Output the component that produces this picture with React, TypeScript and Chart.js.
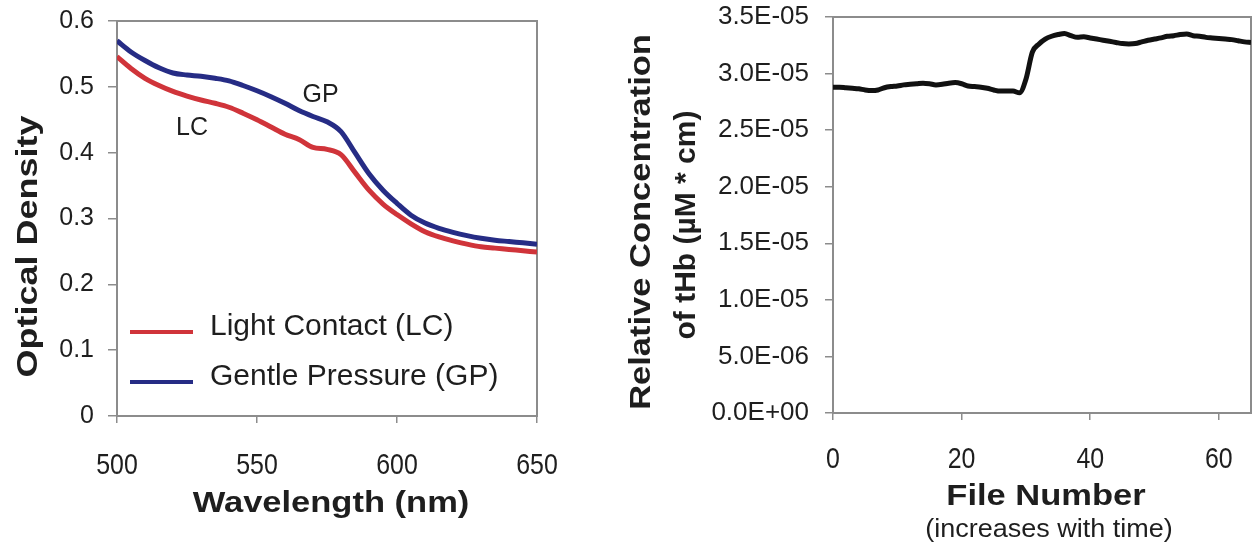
import React, { useEffect, useRef } from "react";
import { Chart, registerables } from "chart.js";

Chart.register(...registerables);

// ---------- Data: left panel (optical density spectra) ----------
const wavelengthNm = [
  500, 505, 510, 515, 520, 525, 530, 535, 540, 545, 550, 555, 560, 565, 570, 575,
  580, 585, 590, 595, 600, 605, 610, 615, 620, 625, 630, 635, 640, 645, 650,
];
const lightContactOD = [
  0.546, 0.528, 0.513, 0.502, 0.493, 0.486, 0.48, 0.475, 0.469, 0.46, 0.45, 0.439,
  0.428, 0.42, 0.408, 0.405, 0.397, 0.37, 0.343, 0.322, 0.306, 0.292, 0.28, 0.272,
  0.266, 0.261, 0.257, 0.255, 0.253, 0.251, 0.249,
];
const gentlePressureOD = [
  0.57, 0.553, 0.54, 0.529, 0.521, 0.518, 0.516, 0.513, 0.509, 0.502, 0.494, 0.485,
  0.475, 0.464, 0.455, 0.447, 0.432, 0.4, 0.368, 0.343, 0.323, 0.305, 0.293, 0.285,
  0.279, 0.274, 0.27, 0.267, 0.265, 0.263, 0.261,
];
const odSeriesLabels = ["Light Contact (LC)", "Gentle Pressure (GP)"];
const curveTags = [
  { text: "GP", x: 572.7, y: 0.477 },
  { text: "LC", x: 526.8, y: 0.427 },
];

// ---------- Data: right panel (relative tHb concentration) ----------
const fileNumbers = [
  0, 1, 2, 3, 4, 5, 6, 7, 8, 9, 10, 11, 12, 13, 14, 15, 16, 17, 18, 19, 20, 21, 22,
  23, 24, 25, 26, 27, 28, 29, 30, 31, 32, 33, 34, 35, 36, 37, 38, 39, 40, 41, 42, 43,
  44, 45, 46, 47, 48, 49, 50, 51, 52, 53, 54, 55, 56, 57, 58, 59, 60, 61, 62, 63, 64,
  65,
];
const tHbConcentration = [
  2.88e-5, 2.88e-5, 2.875e-5, 2.87e-5, 2.865e-5, 2.855e-5, 2.85e-5, 2.855e-5,
  2.875e-5, 2.885e-5, 2.89e-5, 2.9e-5, 2.905e-5, 2.91e-5, 2.915e-5, 2.91e-5, 2.9e-5,
  2.905e-5, 2.915e-5, 2.92e-5, 2.91e-5, 2.89e-5, 2.885e-5, 2.88e-5, 2.87e-5,
  2.855e-5, 2.845e-5, 2.845e-5, 2.845e-5, 2.83e-5, 2.95e-5, 3.19e-5, 3.26e-5,
  3.305e-5, 3.33e-5, 3.345e-5, 3.355e-5, 3.335e-5, 3.32e-5, 3.325e-5, 3.315e-5,
  3.305e-5, 3.295e-5, 3.285e-5, 3.275e-5, 3.265e-5, 3.262e-5, 3.265e-5, 3.28e-5,
  3.295e-5, 3.305e-5, 3.315e-5, 3.33e-5, 3.335e-5, 3.345e-5, 3.35e-5, 3.335e-5,
  3.33e-5, 3.32e-5, 3.315e-5, 3.31e-5, 3.305e-5, 3.3e-5, 3.29e-5, 3.28e-5, 3.275e-5,
];

// ---------- Styles ----------
const RED = "#d0343a";
const BLUE = "#262c85";
const BLACK = "#111111";
const GRAY = "#8c8c8c";
const TEXT = "#1e1e1e";
const SANS = "'Liberation Sans', Arial, Helvetica, sans-serif";

function sci(v: number): string {
  const [m, e] = v.toExponential(1).split("e");
  const sign = e[0] === "-" ? "-" : "+";
  const digits = e.replace(/^[+-]/, "").padStart(2, "0");
  return `${m}E${sign}${digits}`;
}

function drawText(
  ctx: CanvasRenderingContext2D,
  text: string,
  x: number,
  y: number,
  font: string,
  opts: { rotate?: boolean; sx?: number; align?: CanvasTextAlign; color?: string } = {}
) {
  ctx.save();
  ctx.translate(x, y);
  if (opts.rotate) ctx.rotate(-Math.PI / 2);
  ctx.scale(opts.sx ?? 1, 1);
  ctx.font = font;
  ctx.textAlign = opts.align ?? "center";
  ctx.textBaseline = "alphabetic";
  ctx.fillStyle = opts.color ?? TEXT;
  ctx.fillText(text, 0, 0);
  ctx.restore();
}

function drawXTickLabels(chart: any, offset: number) {
  const { ctx, chartArea: a } = chart;
  const xs = chart.scales.x;
  xs.ticks.forEach((t: any) => {
    const label = typeof t.label === "string" ? t.label : String(t.value);
    drawText(ctx, label, xs.getPixelForValue(t.value), a.bottom + offset, `30px ${SANS}`, {
      sx: 0.83,
    });
  });
}

const framePlugin = {
  id: "frame",
  beforeDatasetsDraw(chart: any) {
    const { ctx, chartArea: a } = chart;
    ctx.save();
    ctx.strokeStyle = GRAY;
    ctx.lineWidth = 2;
    ctx.strokeRect(a.left, a.top, a.right - a.left, a.bottom - a.top);
    ctx.restore();
  },
};

const TITLE_FONT = `bold 30px ${SANS}`;

const leftDecor = {
  id: "leftDecor",
  afterDraw(chart: any) {
    const { ctx, chartArea: a, scales } = chart;
    const midX = (a.left + a.right) / 2;
    const midY = (a.top + a.bottom) / 2;
    drawXTickLabels(chart, 58);
    drawText(ctx, "Wavelength (nm)", midX + 4, a.bottom + 96, TITLE_FONT, { sx: 1.15 });
    drawText(ctx, "Optical Density", 37, midY + 28, TITLE_FONT, { sx: 1.2, rotate: true });
    // legend drawn inside plot area
    chart.data.datasets.forEach((ds: any, i: number) => {
      const base = a.top + 314 + i * 50;
      ctx.save();
      ctx.strokeStyle = ds.borderColor;
      ctx.lineWidth = 4;
      ctx.beginPath();
      ctx.moveTo(a.left + 13, base - 3);
      ctx.lineTo(a.left + 76, base - 3);
      ctx.stroke();
      ctx.restore();
      drawText(ctx, ds.label, a.left + 93, base, `30px ${SANS}`, { align: "left" });
    });
    curveTags.forEach((t) => {
      drawText(
        ctx,
        t.text,
        scales.x.getPixelForValue(t.x),
        scales.y.getPixelForValue(t.y),
        `25px ${SANS}`
      );
    });
  },
};

const rightDecor = {
  id: "rightDecor",
  afterDraw(chart: any) {
    const { ctx, chartArea: a } = chart;
    const midX = (a.left + a.right) / 2;
    const midY = (a.top + a.bottom) / 2;
    drawXTickLabels(chart, 55);
    drawText(ctx, "File Number", midX + 4, a.bottom + 92, TITLE_FONT, { sx: 1.15 });
    drawText(ctx, "(increases with time)", midX + 7, a.bottom + 124, `25px ${SANS}`, { sx: 1.08 });
    drawText(ctx, "Relative Concentration", 90, midY + 7, TITLE_FONT, { sx: 1.15, rotate: true });
    drawText(ctx, "of tHb (µM * cm)", 135, midY + 10, TITLE_FONT, { sx: 1.0, rotate: true });
  },
};

const fixX = (h: number) => (s: any) => {
  s.height = h;
  s.paddingLeft = 0;
  s.paddingRight = 0;
};
const fixY = (w: number) => (s: any) => {
  s.width = w;
  s.paddingTop = 0;
  s.paddingBottom = 0;
};

export default function App() {
  const leftRef = useRef<HTMLCanvasElement | null>(null);
  const rightRef = useRef<HTMLCanvasElement | null>(null);

  useEffect(() => {
    document.body.style.margin = "0";
    const common = {
      animation: false as const,
      responsive: false,
      maintainAspectRatio: false,
      devicePixelRatio: 1,
      events: [] as any[],
    };

    const left = new Chart(leftRef.current!, {
      type: "line",
      data: {
        datasets: [
          {
            label: odSeriesLabels[0],
            data: wavelengthNm.map((w, i) => ({ x: w, y: lightContactOD[i] })),
            borderColor: RED,
            backgroundColor: RED,
            borderWidth: 5,
            pointRadius: 0,
            cubicInterpolationMode: "monotone",
            fill: false,
          },
          {
            label: odSeriesLabels[1],
            data: wavelengthNm.map((w, i) => ({ x: w, y: gentlePressureOD[i] })),
            borderColor: BLUE,
            backgroundColor: BLUE,
            borderWidth: 5,
            pointRadius: 0,
            cubicInterpolationMode: "monotone",
            fill: false,
          },
        ],
      },
      options: {
        ...common,
        layout: { padding: { left: 0, right: 23, top: 21, bottom: 0 } },
        plugins: { legend: { display: false }, tooltip: { enabled: false } },
        scales: {
          x: {
            type: "linear",
            min: 500,
            max: 650,
            ticks: { stepSize: 50, display: false },
            grid: { drawOnChartArea: false, tickLength: 7, color: GRAY, lineWidth: 1.5 },
            border: { color: GRAY, width: 2 },
            afterFit: fixX(132),
          },
          y: {
            type: "linear",
            min: 0,
            max: 0.6,
            ticks: { stepSize: 0.1, color: TEXT, font: { family: SANS, size: 25 }, padding: 14 },
            grid: { drawOnChartArea: false, tickLength: 9, color: GRAY, lineWidth: 1.5 },
            border: { color: GRAY, width: 2 },
            afterFit: fixY(117),
          },
        },
      },
      plugins: [framePlugin, leftDecor],
    } as any);

    const right = new Chart(rightRef.current!, {
      type: "line",
      data: {
        datasets: [
          {
            label: "tHb",
            data: fileNumbers.map((f, i) => ({ x: f, y: tHbConcentration[i] })),
            borderColor: BLACK,
            backgroundColor: BLACK,
            borderWidth: 5,
            pointRadius: 0,
            cubicInterpolationMode: "monotone",
            fill: false,
          },
        ],
      },
      options: {
        ...common,
        layout: { padding: { left: 0, right: 1, top: 17, bottom: 0 } },
        plugins: { legend: { display: false }, tooltip: { enabled: false } },
        scales: {
          x: {
            type: "linear",
            min: 0,
            max: 65,
            ticks: { stepSize: 20, includeBounds: false, display: false },
            grid: { drawOnChartArea: false, tickLength: 7, color: GRAY, lineWidth: 1.5 },
            border: { color: GRAY, width: 2 },
            afterFit: fixX(135),
          },
          y: {
            type: "linear",
            min: 0,
            max: 3.5e-5,
            ticks: {
              stepSize: 5e-6,
              color: TEXT,
              font: { family: SANS, size: 26 },
              padding: 16,
              callback: (v: any) => sci(Number(v)),
            },
            grid: { drawOnChartArea: false, tickLength: 8, color: GRAY, lineWidth: 1.5 },
            border: { color: GRAY, width: 2 },
            afterFit: fixY(273),
          },
        },
      },
      plugins: [framePlugin, rightDecor],
    } as any);

    return () => {
      left.destroy();
      right.destroy();
    };
  }, []);

  return (
    <div
      style={{
        position: "fixed",
        left: 0,
        top: 0,
        width: 1252,
        height: 548,
        background: "#ffffff",
        overflow: "hidden",
      }}
    >
      <canvas
        ref={leftRef}
        width={560}
        height={548}
        style={{ position: "absolute", left: 0, top: 0, width: 560, height: 548 }}
      />
      <canvas
        ref={rightRef}
        width={692}
        height={548}
        style={{ position: "absolute", left: 560, top: 0, width: 692, height: 548 }}
      />
    </div>
  );
}
